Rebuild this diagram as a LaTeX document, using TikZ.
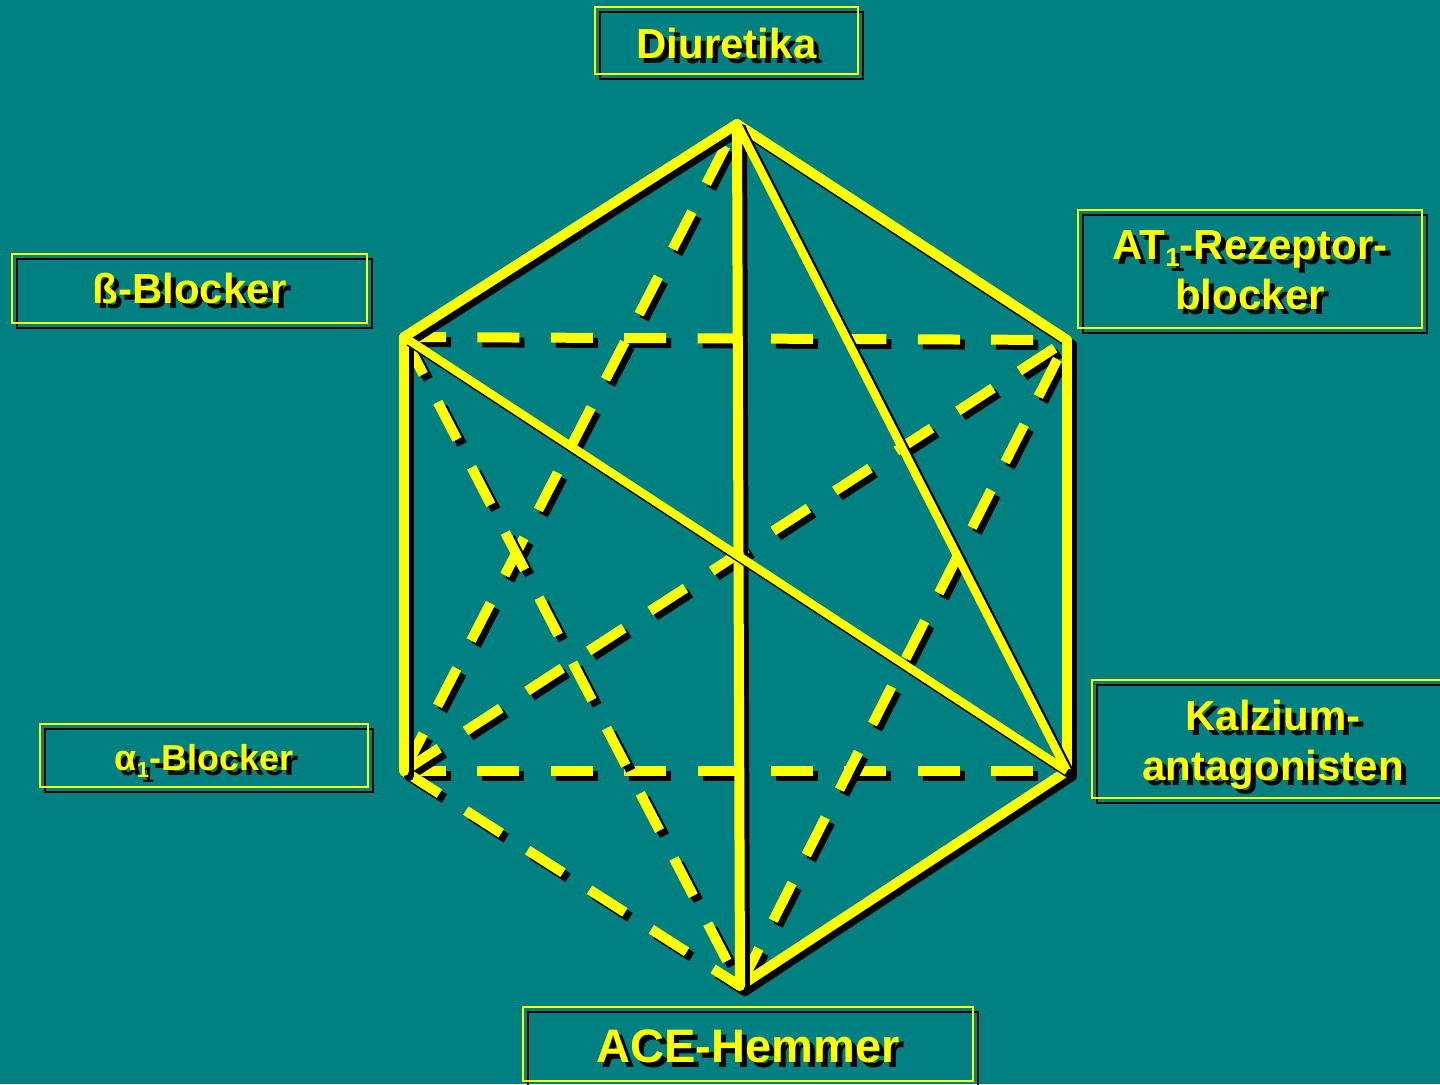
\documentclass[tikz,border=0pt]{standalone}
\usepackage{fontspec}
\setmainfont{Liberation Sans}
\definecolor{tealbg}{HTML}{008080}
\definecolor{yel}{HTML}{FFFF00}
\newcommand\shd[1]{\makebox[0pt][l]{\hspace{2.5pt}\raisebox{-2.5pt}{\color{black}#1}}#1}
\newcommand\dn[2]{\raisebox{-#1}[\height][\depth]{#2}}
\newcommand\lowone[1]{\raisebox{-3.5pt}{\fontsize{#1}{#1}\selectfont 1}}
\newcommand\sline[3]{%
  \draw[#1,black] ([shift={(5,5)}]#2) -- ([shift={(5,5)}]#3);
  \draw[#1] (#2) -- (#3);}
\newcommand\shadowbox[1]{%
  \draw[black,line width=1pt] ([shift={(5,5)}]#1.south west) rectangle ([shift={(5,5)}]#1.north east);
  \draw[yel,line width=1pt] (#1.south west) rectangle (#1.north east);}
\tikzset{
  lbl/.style={text=yel, font=\bfseries\fontsize{21}{25}\selectfont, inner sep=0pt, align=center},
  edgeline/.style={yel, line width=5pt, line cap=round},
  diagline/.style={yel, line width=4.2pt, line cap=butt},
  dshline/.style={yel, line width=5pt, line cap=butt, dash pattern=on 21pt off 15.7pt},
}
\begin{document}
\begin{tikzpicture}[x=0.5pt,y=-0.5pt]
\fill[tealbg] (0,0) rectangle (1440,1084);
\useasboundingbox (0,0) rectangle (1440,1084);
\clip (0,0) rectangle (1440,1084);

% vertices
\coordinate (T) at (737,124);
\coordinate (UL) at (404,337);
\coordinate (UR) at (1067,340);
\coordinate (LL) at (404,771);
\coordinate (LR) at (1067,771);
\coordinate (B) at (740,986);

% labels
\node[lbl, minimum width=131.5pt, minimum height=33.5pt] (diu) at (726.5,40.5) {\dn{2.5pt}{\shd{Diuretika}}};
\node[lbl, minimum width=177.5pt, minimum height=34pt] (beta) at (189.5,288.5) {\dn{1.2pt}{\shd{ß-Blocker}}};
\node[lbl, minimum width=172pt, minimum height=59pt] (at) at (1250,269) {\dn{1.8pt}{\shd{AT\lowone{13}-Rezeptor-}}\\\dn{1.8pt}{\shd{blocker}}};
\node[lbl, minimum width=164pt, minimum height=31.5pt, font=\bfseries\fontsize{18}{22}\selectfont] (alpha) at (204,755.5) {\dn{4pt}{\shd{α\lowone{11}-Blocker}}};
\node[lbl, minimum width=181pt, minimum height=59pt] (ca) at (1273,739) {\dn{4pt}{\shd{Kalzium-}}\\\dn{4pt}{\shd{antagonisten}}};
\node[lbl, minimum width=225pt, minimum height=37pt, font=\bfseries\fontsize{23.5}{28}\selectfont] (ace) at (748,1044) {\dn{2.5pt}{\shd{ACE-Hemmer}}};

\shadowbox{diu}
\shadowbox{beta}
\shadowbox{at}
\shadowbox{alpha}
\shadowbox{ca}
\shadowbox{ace}

% dashed connectors
\sline{dshline}{UL}{UR}
\sline{dshline}{LL}{LR}
\sline{dshline}{LL}{T}
\sline{dshline}{LL}{UR}
\sline{dshline}{LL}{B}
\sline{dshline}{UL}{B}
\sline{dshline}{B}{UR}

% solid connectors
\sline{edgeline}{T}{UL}
\sline{edgeline}{T}{UR}
\sline{edgeline}{UL}{LL}
\sline{edgeline}{UR}{LR}
\sline{edgeline}{LR}{B}
\sline{edgeline}{T}{B}
\sline{diagline}{T}{LR}
\sline{diagline}{UL}{LR}
\end{tikzpicture}
\end{document}
